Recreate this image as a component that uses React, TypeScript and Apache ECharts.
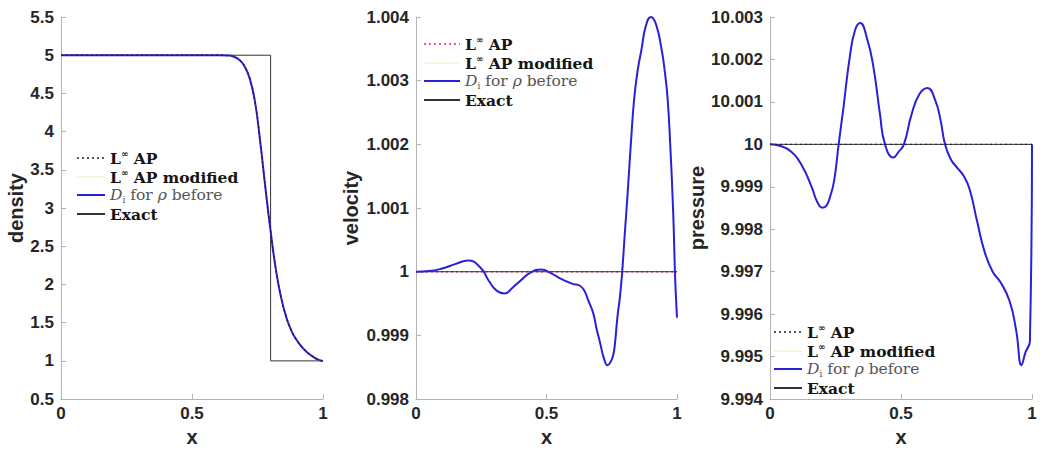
import React, { useEffect, useRef } from "react";
import * as echarts from "echarts";

// ---------- data ----------
const DENS_X = [0, 0.2, 0.4, 0.6, 0.64, 0.66, 0.68, 0.7, 0.72, 0.74, 0.76, 0.78, 0.8, 0.82, 0.84, 0.86, 0.88, 0.9, 0.92, 0.94, 0.96, 0.98, 1.0];
const DENS_DI = [5, 5, 5, 5, 4.995, 4.98, 4.94, 4.86, 4.7, 4.4, 3.88, 3.27, 2.7, 2.2, 1.83, 1.57, 1.39, 1.27, 1.18, 1.11, 1.06, 1.02, 1.0];
const DENS_AP = [5, 5, 5, 5, 4.995, 4.98, 4.94, 4.86, 4.7, 4.4, 3.88, 3.27, 2.7, 2.2, 1.83, 1.57, 1.39, 1.27, 1.18, 1.11, 1.06, 1.02, 1.0];
const DENS_EXACT_X = [0, 0.8, 0.8, 1];
const DENS_EXACT = [5, 5, 1, 1];

const VEL_X = [0, 0.05, 0.1, 0.15, 0.2, 0.25, 0.28, 0.31, 0.34, 0.37, 0.4, 0.44, 0.48, 0.52, 0.56, 0.6, 0.628, 0.645, 0.66, 0.679, 0.692, 0.705, 0.72, 0.734, 0.745, 0.755, 0.762, 0.772, 0.782, 0.79, 0.8, 0.81, 0.823, 0.836, 0.85, 0.864, 0.88, 0.9, 0.92, 0.941, 0.953, 0.964, 0.974, 0.983, 0.988, 0.992, 0.996, 1.0];
const VEL_DI = [1.0, 1.00001, 1.00005, 1.00012, 1.000175, 1.00005, 0.99985, 0.9997, 0.99966, 0.99975, 0.99986, 0.99999, 1.000035, 0.99997, 0.99988, 0.99981, 0.99978, 0.9997, 0.99955, 0.99935, 0.9991, 0.99889, 0.99864, 0.99853, 0.99858, 0.99868, 0.99886, 0.9993, 0.99963, 1.0, 1.0006, 1.00118, 1.002, 1.00272, 1.00318, 1.00349, 1.00385, 1.004, 1.00388, 1.00349, 1.00315, 1.00272, 1.002, 1.00118, 1.0006, 1.0, 0.9996, 0.99928];
const VEL_AP_X = [0, 1];
const VEL_AP = [1, 1];
const VEL_EXACT_X = [0, 1];
const VEL_EXACT = [1, 1];

const PRES_X = [0, 0.04, 0.08, 0.12, 0.16, 0.18, 0.2, 0.215, 0.23, 0.245, 0.262, 0.28, 0.305, 0.325, 0.344, 0.37, 0.394, 0.42, 0.439, 0.471, 0.49, 0.511, 0.54, 0.57, 0.601, 0.63, 0.65, 0.668, 0.69, 0.713, 0.74, 0.763, 0.79, 0.82, 0.85, 0.88, 0.915, 0.94, 0.96, 0.975, 0.992, 1.0];
const PRES_DI = [10, 9.99996, 9.99983, 9.99952, 9.99898, 9.99865, 9.99851, 9.99855, 9.99878, 9.99915, 10.0, 10.00085, 10.00208, 10.0027, 10.00286, 10.0025, 10.00185, 10.0007, 10.0, 9.99969, 9.99982, 10.0, 10.0007, 10.00118, 10.00133, 10.00105, 10.0006, 10.0, 9.99965, 9.99946, 9.99925, 9.99892, 9.9982, 9.99745, 9.997, 9.99675, 9.9963, 9.9956, 9.9948, 9.9951, 9.99537, 10.0];
const PRES_AP_X = [0, 1];
const PRES_AP = [10, 10];
const PRES_EXACT_X = [0, 1];
const PRES_EXACT = [10, 10];

const X_TICKS = { min: 0, max: 1, interval: 0.5 };
const DENS_TICKS = { min: 0.5, max: 5.5, interval: 0.5 };
const VEL_TICKS = { min: 0.998, max: 1.004, interval: 0.001 };
const PRES_TICKS = { min: 9.994, max: 10.003, interval: 0.001 };

const NAMES = ["L∞ AP", "L∞ AP modified", "Di for ρ before", "Exact"];
const Y_NAMES = ["density", "velocity", "pressure"];

// ---------- styles ----------
const BLUE = "#2b1fd8";
const AXIS_GRAY = "#b4b4b4";

const pairs = (xs: number[], ys: number[]) => xs.map((x, i) => [x, ys[i]]);

const FS = 15.5;
const richStyles = {
  b: { fontFamily: "DejaVu Serif", fontWeight: "bold", fontSize: FS, color: "#151515", lineHeight: 18 },
  sup: { fontFamily: "DejaVu Serif", fontWeight: "bold", fontSize: 9, color: "#151515", lineHeight: 9, verticalAlign: "top" },
  it: { fontFamily: "DejaVu Serif", fontStyle: "italic", fontSize: FS, color: "#555", lineHeight: 18 },
  rg: { fontFamily: "DejaVu Serif", fontSize: FS, color: "#555", lineHeight: 18 },
  sub: { fontFamily: "DejaVu Serif", fontSize: 9, color: "#555", lineHeight: 9, verticalAlign: "bottom" },
};

const legendFormatter = (name: string) => {
  if (name === NAMES[0]) return "{b|L}{sup|∞}{b| AP}";
  if (name === NAMES[1]) return "{b|L}{sup|∞}{b| AP modified}";
  if (name === NAMES[2]) return "{it|D}{sub|i}{rg| for }{it|ρ}{rg| before}";
  return "{b|Exact}";
};

const HIDDEN_SYMBOL = { color: "rgba(0,0,0,0)", borderColor: "rgba(0,0,0,0)", borderWidth: 0, opacity: 0 };

function makeLegend(left: number, top: number, itemWidth: number, apColor: string) {
  return {
    orient: "vertical",
    left,
    top,
    padding: 0,
    itemGap: 2,
    itemWidth,
    itemHeight: 14,
    selectedMode: false,
    formatter: legendFormatter,
    textStyle: { rich: richStyles },
    itemStyle: HIDDEN_SYMBOL,
    data: [
      { name: NAMES[0], lineStyle: { color: apColor, type: [2, 3], width: 1.3 }, itemStyle: HIDDEN_SYMBOL },
      { name: NAMES[1], itemStyle: HIDDEN_SYMBOL },
      { name: NAMES[2], itemStyle: HIDDEN_SYMBOL },
      { name: NAMES[3], itemStyle: HIDDEN_SYMBOL },
    ],
  };
}

function makeGrid(left: number, width: number) {
  return { left, top: 17, width, height: 389, containLabel: false };
}

const labelStyle = {
  color: "#262626",
  fontFamily: "Liberation Sans",
  fontWeight: "bold",
  fontSize: 17,
};

function makeXAxis(gridIndex: number) {
  return {
    type: "value",
    gridIndex,
    ...X_TICKS,
    name: "x",
    nameLocation: "middle",
    nameGap: 20,
    nameTextStyle: { ...labelStyle, fontSize: 20 },
    axisLine: { show: true, onZero: false, lineStyle: { color: AXIS_GRAY, width: 1 } },
    axisTick: { show: true, inside: true, length: 5, lineStyle: { color: AXIS_GRAY } },
    splitLine: { show: false },
    axisLabel: { ...labelStyle, margin: 6 },
  };
}

function makeYAxis(gridIndex: number, ticks: any, name: string, nameGap: number) {
  return {
    type: "value",
    gridIndex,
    ...ticks,
    name,
    nameLocation: "middle",
    nameGap,
    nameTextStyle: { ...labelStyle, fontSize: 20 },
    axisLine: { show: true, onZero: false, lineStyle: { color: AXIS_GRAY, width: 1 } },
    axisTick: { show: true, inside: true, length: 5, lineStyle: { color: AXIS_GRAY } },
    splitLine: { show: false },
    axisLabel: { ...labelStyle, margin: 7 },
  };
}

function lineSeries(name: string, idx: number, data: number[][], color: string, width: number, type: any, z: number, smooth: number | boolean) {
  return {
    type: "line",
    name,
    xAxisIndex: idx,
    yAxisIndex: idx,
    data,
    symbol: "none",
    showSymbol: false,
    smooth,
    lineStyle: { color, width, type },
    itemStyle: { color },
    z,
    silent: true,
  };
}

function panelSeries(idx: number, apX: number[], apY: number[], diX: number[], diY: number[], exX: number[], exY: number[], apColor: string, apZ: number) {
  return [
    lineSeries(NAMES[0], idx, pairs(apX, apY), apColor, 1.3, [2, 3], apZ, 0.5),
    lineSeries(NAMES[1], idx, pairs(diX, diY), "#f8f6e2", 1, "solid", 2, 0.5),
    lineSeries(NAMES[2], idx, pairs(diX, diY), BLUE, 2, "solid", 4, 0.5),
    lineSeries(NAMES[3], idx, pairs(exX, exY), "#333333", 1, "solid", 3, false),
  ];
}

export default function App() {
  const ref = useRef<HTMLDivElement>(null);

  useEffect(() => {
    document.body.style.margin = "0";
    if (!ref.current) return;
    const chart = echarts.init(ref.current, null, { renderer: "svg" });
    const option = {
      animation: false,
      backgroundColor: "#ffffff",
      grid: [makeGrid(61, 262), makeGrid(416, 261), makeGrid(770, 262)],
      xAxis: [makeXAxis(0), makeXAxis(1), makeXAxis(2)],
      yAxis: [
        makeYAxis(0, DENS_TICKS, Y_NAMES[0], 29),
        makeYAxis(1, VEL_TICKS, Y_NAMES[1], 55),
        makeYAxis(2, PRES_TICKS, Y_NAMES[2], 63),
      ],
      legend: [
        makeLegend(76, 149, 28, "#222222"),
        makeLegend(423, 35, 36, "#e0303c"),
        makeLegend(773, 323, 28, "#222222"),
      ],
      series: [
        ...panelSeries(0, DENS_X, DENS_AP, DENS_X, DENS_DI, DENS_EXACT_X, DENS_EXACT, "#222222", 5),
        ...panelSeries(1, VEL_AP_X, VEL_AP, VEL_X, VEL_DI, VEL_EXACT_X, VEL_EXACT, "#e0303c", 2.5),
        ...panelSeries(2, PRES_AP_X, PRES_AP, PRES_X, PRES_DI, PRES_EXACT_X, PRES_EXACT, "#222222", 5),
      ],
    };
    chart.setOption(option as any);
    return () => chart.dispose();
  }, []);

  return <div ref={ref} style={{ width: 1040, height: 452 }} />;
}
